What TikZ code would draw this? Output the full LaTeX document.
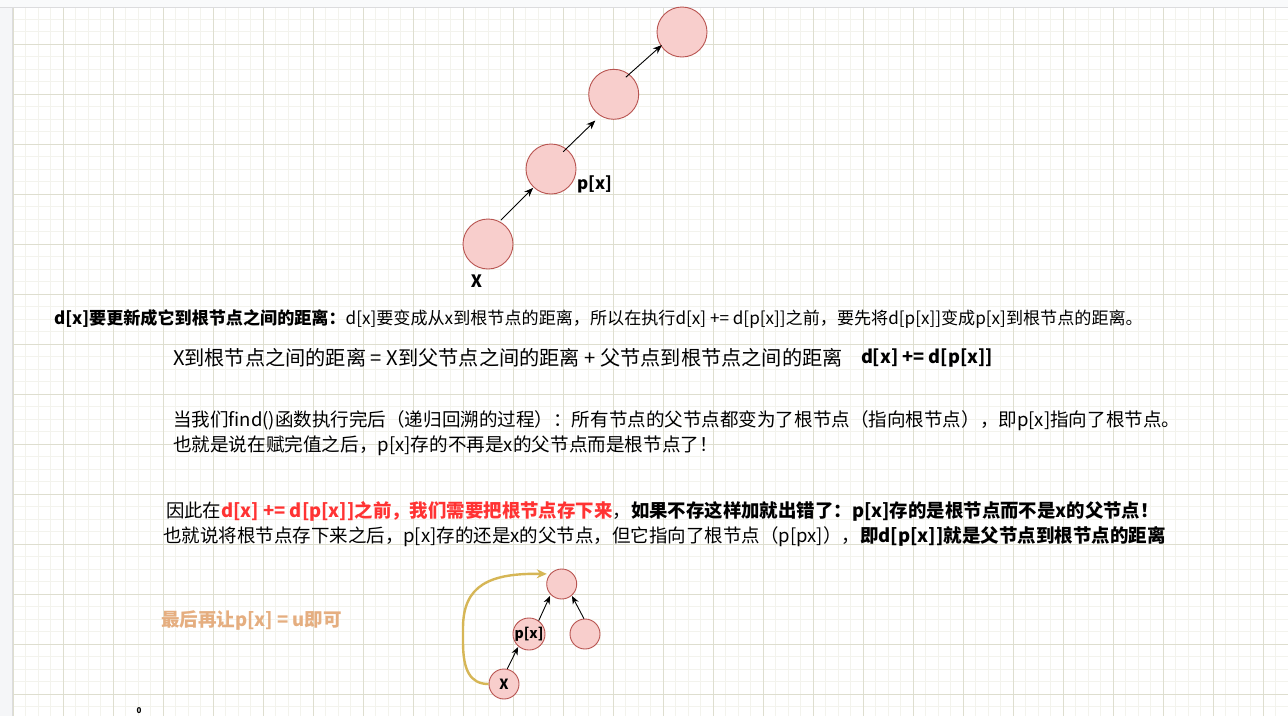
\documentclass[tikz,border=0pt]{standalone}
\usepackage{fontspec}
\setmainfont{Noto Sans CJK SC}
\usetikzlibrary{arrows.meta,calc}
\definecolor{gmin}{RGB}{243,243,237}
\definecolor{gmaj}{RGB}{222,222,207}
\definecolor{nfill}{HTML}{F8CECC}
\definecolor{nline}{HTML}{B85450}
\definecolor{ylw}{HTML}{D6B656}
\definecolor{tant}{RGB}{229,174,128}
\definecolor{redt}{HTML}{FF3333}
\definecolor{stripc}{RGB}{245,246,248}
\definecolor{stripl}{RGB}{220,220,222}
\begin{document}
\begin{tikzpicture}[x=1pt,y=1pt,
  bignode/.style={circle,draw=nline,fill=nfill,line width=0.9pt,minimum size=50pt,inner sep=0pt},
  smallnode/.style={circle,draw=nline,fill=nfill,line width=0.9pt,minimum size=30pt,inner sep=0pt,font=\fontsize{14}{14}\selectfont\bfseries},
  arr/.style={-{Stealth[length=9pt,width=7pt]},line width=0.9pt,black},
  sarr/.style={-{Stealth[length=8pt,width=6.5pt]},line width=0.9pt,black},
  txt/.style={anchor=west,inner sep=0pt,outer sep=0pt},
  lbl/.style={inner sep=0pt,font=\fontsize{17}{17}\selectfont\bfseries},
]
\useasboundingbox (0,0) rectangle (1288,-716);
\fill[white] (0,0) rectangle (1288,-716);
% grid
\foreach \i in {0,...,102} {\draw[gmin,line width=0.8pt] ({13+12.5*\i},0) -- ({13+12.5*\i},-716);}
\foreach \j in {0,...,57} {\draw[gmin,line width=0.8pt] (0,{-6.5-12.5*\j}) -- (1288,{-6.5-12.5*\j});}
\foreach \i in {0,...,25} {\draw[gmaj,line width=1pt] ({13+50*\i},0) -- ({13+50*\i},-716);}
\foreach \j in {0,...,13} {\draw[gmaj,line width=1pt] (0,{-44-50*\j}) -- (1288,{-44-50*\j});}
% strips
\fill[stripc] (0,0) rectangle (12,-716);
\fill[stripc!60!white] (0,0) rectangle (1288,-7);
\draw[stripl,line width=1pt] (12,-7) -- (12,-716);
\draw[stripl,line width=1pt] (0,-7) -- (1288,-7);

% top chain
\node[bignode] (a1) at (488,-244) {};
\node[bignode] (b1) at (551,-169) {};
\node[bignode] (c1) at (613.7,-94.3) {};
\node[bignode] (d1) at (682,-32) {};
\draw[arr] ($(a1)+(61.6:27)$) -- ($(b1)+(226.5:26)$);
\draw[arr] ($(b1)+(54.8:21)$) -- ($(c1)+(235:32)$);
\draw[arr] ($(c1)+(54.6:21)$) -- ($(d1)+(213:24)$);
\node[lbl] (lx) at (476.5,-281.5) {X};
\node[lbl] (lp) at (594.5,-184) {p[x]};

% text lines
\node[txt,font=\fontsize{17.1}{20}\selectfont] (t1) at (54,-319) {\textbf{d[x]要更新成它到根节点之间的距离：}d[x]要变成从x到根节点的距离，所以在执行d[x] += d[p[x]]之前，要先将d[p[x]]变成p[x]到根节点的距离。};
\node[txt,font=\fontsize{20.2}{22}\selectfont] (t2) at (173,-358) {X到根节点之间的距离 = X到父节点之间的距离 + 父节点到根节点之间的距离};
\node[txt,font=\fontsize{18.2}{22}\selectfont\bfseries] (t2b) at (861,-358) {d[x] += d[p[x]]};
\node[txt,font=\fontsize{18.55}{22}\selectfont] (t3) at (173,-420.5) {当我们find()函数执行完后（递归回溯的过程）：所有节点的父节点都变为了根节点（指向根节点），即p[x]指向了根节点。};
\node[txt,font=\fontsize{18.6}{22}\selectfont] (t4) at (173,-445.5) {也就是说在赋完值之后，p[x]存的不再是x的父节点而是根节点了！};
\node[txt,font=\fontsize{18.42}{22}\selectfont] (t5) at (166,-511.5) {因此在\textcolor{redt}{\textbf{d[x] += d[p[x]]之前，我们需要把根节点存下来}}，\textbf{如果不存这样加就出错了：p[x]存的是根节点而不是x的父节点！}};
\node[txt,font=\fontsize{18.5}{22}\selectfont] (t6) at (163,-537) {也就说将根节点存下来之后，p[x]存的还是x的父节点，但它指向了根节点（p[px]），\textbf{即d[p[x]]就是父节点到根节点的距离}};
\node[txt,text=tant,font=\fontsize{18.5}{22}\selectfont\bfseries] (tn) at (161,-620) {最后再让p[x] = u即可};

% bottom tree
\node[smallnode] (t) at (561.7,-584) {};
\node[smallnode] (px) at (529,-634) {p[x]};
\node[smallnode] (r) at (585,-634) {};
\node[smallnode] (xb) at (504,-684) {X};
\draw[sarr] (xb.78) -- ($(px)+(230:17)$);
\draw[sarr] (px.54.5) -- ($(t)+(225.7:16.8)$);
\draw[sarr] (r.94) -- ($(t)+(310.6:15.8)$);
\coordinate (tip) at ($(t)+(146:18)$);
\draw[ylw,line width=2.4pt,-{Stealth[length=10pt,width=9pt]}] (xb.west) .. controls (470,-684) and (463,-670) .. (463,-642) -- (463,-628) .. controls (463,-585) and (490,-573) .. (tip);

% small glyph at bottom edge
\node[inner sep=0pt,font=\fontsize{8}{8}\selectfont\bfseries] (zz) at (139,-710.5) {0};
\end{tikzpicture}
\end{document}
